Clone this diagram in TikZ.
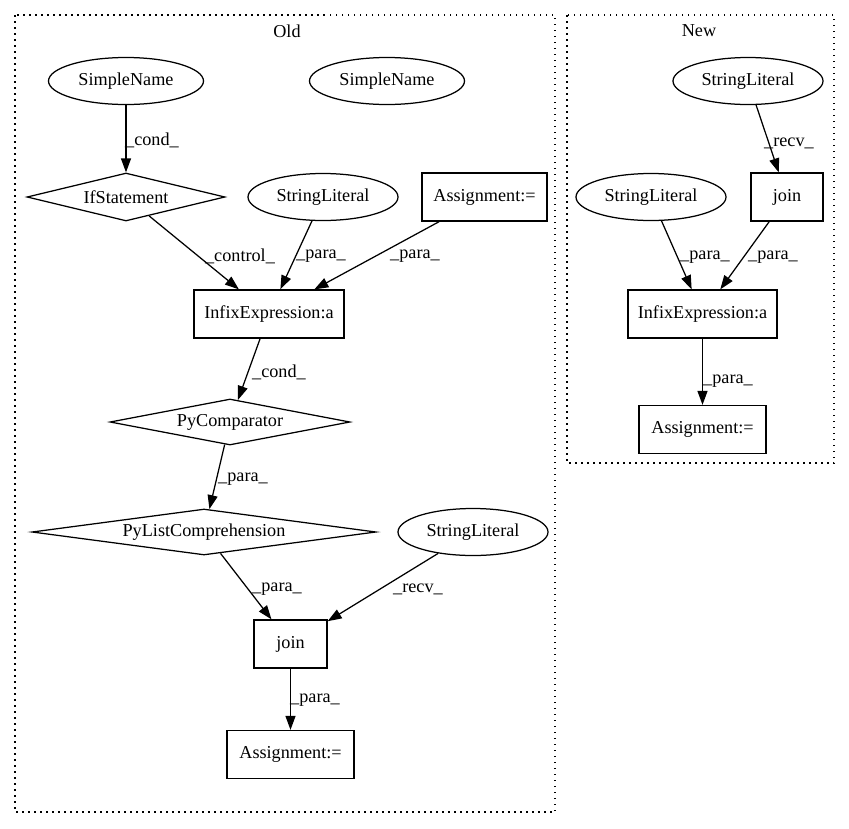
\documentclass[tikz,border=0pt]{standalone}
\usepackage{fontspec}
\setmainfont{Liberation Serif}
\usetikzlibrary{shapes.geometric,arrows.meta}
\begin{document}
\begin{tikzpicture}[x=1pt,y=-1pt,
  every node/.style={font=\fontsize{18.2pt}{20pt}\selectfont},
  ell/.style={ellipse,draw,line width=1.25pt,inner sep=0pt,minimum height=47pt},
  box/.style={rectangle,draw,line width=1.25pt,inner sep=0pt,minimum height=48pt},
  dia/.style={diamond,draw,line width=1.25pt,inner sep=0pt},
  lbl/.style={inner sep=0pt},
  cluster/.style={draw,line width=1.25pt,dash pattern=on 1.5pt off 4.5pt},
  edge/.style={line width=1.25pt,-{Triangle[length=14pt,width=10pt]}}]
\useasboundingbox (0,0) rectangle (849,828);
% clusters
\draw[cluster] (15,15) rectangle (555,812);
\draw[cluster] (567,15) rectangle (834,463);
\node[lbl] (oldlbl) at (287,31) {Old};
\node[lbl] (newlbl) at (699,31) {New};
% Old nodes
\node[ell,minimum width=155pt] (sn1) at (126,81) {SimpleName};
\node[ell,minimum width=155pt] (sn2) at (387,81) {SimpleName};
\node[dia,shape aspect=4,minimum width=198pt,minimum height=48pt] (ifs) at (126,197) {IfStatement};
\node[ell,minimum width=150pt] (sl1) at (323,197) {StringLiteral};
\node[box,minimum width=125pt] (as1) at (484.5,197) {Assignment:=};
\node[box,minimum width=150pt] (inf1) at (269,314) {InfixExpression:a};
\node[dia,shape aspect=5,minimum width=240pt,minimum height=46pt] (pyc) at (230,422) {PyComparator};
\node[dia,shape aspect=7,minimum width=344pt,minimum height=46pt] (pyl) at (204,532) {PyListComprehension};
\node[ell,minimum width=150pt] (sl2) at (473,532) {StringLiteral};
\node[box,minimum width=73pt] (join1) at (290.5,644) {join};
\node[box,minimum width=127pt] (as2) at (290.5,754.5) {Assignment:=};
% New nodes
\node[ell,minimum width=150pt] (sl3) at (748,81) {StringLiteral};
\node[box,minimum width=72pt] (join2) at (787,197) {join};
\node[ell,minimum width=150pt] (sl4) at (651,197) {StringLiteral};
\node[box,minimum width=149pt] (inf2) at (702.5,314) {InfixExpression:a};
\node[box,minimum width=127pt] (as3) at (702.5,429.5) {Assignment:=};
% Old edges
\draw[edge] (sn1) -- (ifs);
\draw[edge] (ifs) -- (inf1);
\draw[edge] (sl1) -- (inf1);
\draw[edge] (as1) -- (inf1);
\draw[edge] (inf1) -- (pyc);
\draw[edge] (pyc) -- (pyl);
\draw[edge] (pyl) -- (join1);
\draw[edge] (sl2) -- (join1);
\draw[edge] (join1) -- (as2);
% New edges
\draw[edge] (sl3) -- (join2);
\draw[edge] (sl4) -- (inf2);
\draw[edge] (join2) -- (inf2);
\draw[edge] (inf2) -- (as3);
% Edge labels
\node[lbl] (l1) at (152,140) {\_cond\_};
\node[lbl] (l2) at (240,256) {\_control\_};
\node[lbl] (l3) at (321,256) {\_para\_};
\node[lbl] (l4) at (415,256) {\_para\_};
\node[lbl] (l5) at (279,372) {\_cond\_};
\node[lbl] (l6) at (243,479) {\_para\_};
\node[lbl] (l7) at (277,589) {\_para\_};
\node[lbl] (l8) at (418,589) {\_recv\_};
\node[lbl] (l9) at (315,700) {\_para\_};
\node[lbl] (l10) at (789,143) {\_recv\_};
\node[lbl] (l11) at (705,257) {\_para\_};
\node[lbl] (l12) at (773,257) {\_para\_};
\node[lbl] (l13) at (728,381) {\_para\_};
\end{tikzpicture}
\end{document}
